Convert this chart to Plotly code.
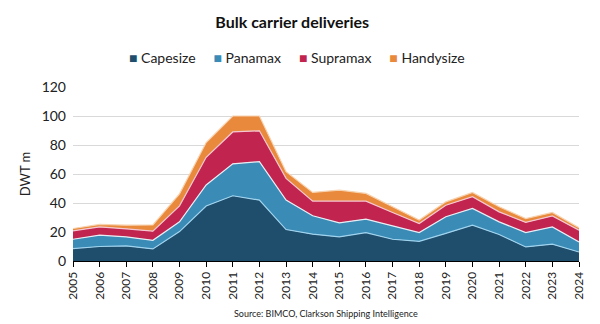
import plotly.graph_objects as go

years = list(range(2005, 2025))
capesize = [8.6, 10.0, 10.4, 8.3, 20.3, 37.9, 45.0, 42.0, 21.7, 18.5, 16.6, 19.6, 15.0, 13.6, 19.0, 24.7, 18.3, 9.7, 11.6, 6.2]
panamax = [6.4, 7.8, 6.2, 6.0, 6.7, 14.5, 22.0, 26.5, 20.3, 12.7, 9.7, 9.3, 9.2, 6.0, 11.5, 11.5, 8.7, 9.9, 11.9, 6.9]
supramax = [5.8, 5.7, 5.6, 6.3, 11.0, 19.1, 22.0, 21.3, 15.0, 10.1, 15.0, 12.4, 9.3, 6.3, 8.0, 8.1, 6.9, 7.0, 7.6, 8.1]
handysize = [1.6, 1.7, 2.5, 4.3, 8.3, 10.2, 11.0, 10.2, 4.6, 6.0, 7.6, 5.3, 3.9, 2.3, 2.3, 3.0, 3.5, 2.7, 2.4, 1.8]
y_ticks = [0, 20, 40, 60, 80, 100, 120]

series = [
    ("Capesize", capesize, "#1F4D6C", "#9FD3EE"),
    ("Panamax", panamax, "#3A8BB6", "#E6EEF5"),
    ("Supramax", supramax, "#C1244F", "#F5C7D2"),
    ("Handysize", handysize, "#E8893B", "#F7D2B0"),
]

FONT = "Lato"
fig = go.Figure()
for name, vals, col, lcol in series:
    fig.add_trace(go.Scatter(
        x=years, y=vals, name=name, stackgroup="one", mode="lines",
        line=dict(color=lcol, width=1.2), fillcolor=col, showlegend=False,
        hovertemplate="%{x}: %{y}<extra>" + name + "</extra>",
    ))

# compact legend row (square swatch + label), as in the reference
legend_text = "&nbsp;&nbsp;&nbsp;&nbsp;&nbsp;".join(
    f"<span style='color:{col}'>■</span> {name}" for name, vals, col, lcol in series
)
fig.add_annotation(
    text=legend_text, xref="paper", yref="paper", x=0.443, y=1.17,
    xanchor="center", yanchor="middle", showarrow=False,
    font=dict(family=FONT, size=14, color="#222222"),
)

fig.update_layout(
    width=600, height=324,
    margin=dict(l=73, r=21, t=87, b=63),
    paper_bgcolor="white", plot_bgcolor="white",
    font=dict(family=FONT, size=13, color="#222222"),
    title=dict(text="<b>Bulk carrier deliveries</b>", x=0.487, xanchor="center",
               y=0.93, yanchor="middle", font=dict(family=FONT, size=16, color="#111111")),
    showlegend=False,
)
fig.update_xaxes(
    range=[2005, 2024], tickvals=years, ticktext=[str(y) for y in years],
    tickangle=-90, ticks="outside", ticklen=5, tickcolor="#000000",
    showline=True, linecolor="#000000", linewidth=1, showgrid=False,
    tickfont=dict(family=FONT, size=12, color="#222222"), zeroline=False,
)
fig.update_yaxes(
    range=[0, 120], tickvals=y_ticks, showgrid=True, gridcolor="#D9D9D9", gridwidth=1,
    showline=False, zeroline=False, ticks="", ticklabelstandoff=6,
    tickfont=dict(family=FONT, size=14, color="#222222"),
    title=dict(text="DWT m", font=dict(family=FONT, size=13, color="#222222"), standoff=8),
)
fig.add_annotation(
    text="Source: BIMCO, Clarkson Shipping Intelligence", xref="paper", yref="paper",
    x=0.5, y=-0.30, xanchor="center", yanchor="middle", showarrow=False,
    font=dict(family=FONT, size=9, color="#222222"),
)
fig.write_html("out.html")
